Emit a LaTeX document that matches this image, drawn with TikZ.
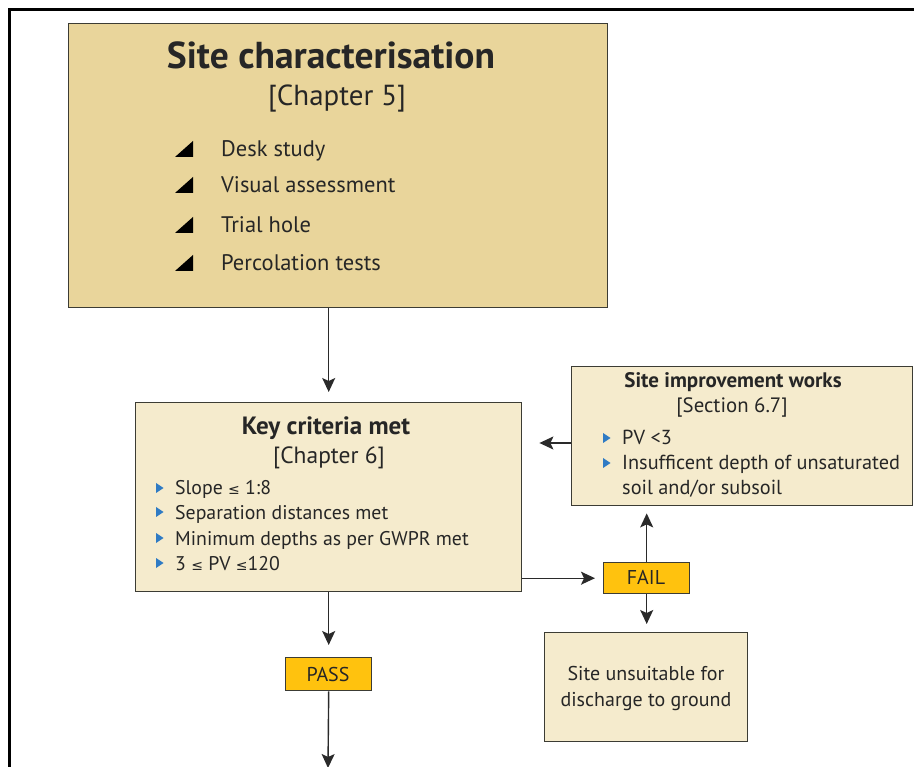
\documentclass[tikz,border=0pt]{standalone}
\usepackage{fontspec}
\setmainfont{PT Sans}
\newfontfamily\symfont{DejaVu Sans}
\usetikzlibrary{arrows.meta}
\definecolor{tanA}{HTML}{E9D59B}
\definecolor{tanB}{HTML}{F5EBCD}
\definecolor{orangeA}{HTML}{FFC20E}
\definecolor{bluebul}{HTML}{2F7BC4}
\definecolor{bordercol}{HTML}{3C3C34}
\definecolor{linecol}{HTML}{2A2A2A}
\newcommand{\fs}[1]{\fontsize{#1}{#1}\selectfont}
\newcommand{\lesym}{{\fontsize{14}{14}\symfont ≤}}
\begin{document}
\begin{tikzpicture}[x=1pt,y=-1pt,
  box/.style={draw=bordercol, line width=1.4pt, inner sep=0pt, anchor=north west},
  conn/.style={draw=linecol, line width=1.4pt, -{Stealth[length=14pt,width=13pt,inset=3pt]}, shorten >=8pt},
  txt/.style={inner sep=0pt, anchor=base west, text=black!85},
  ctxt/.style={inner sep=0pt, anchor=base, text=black!85},
  bigbul/.style={fill=black},
  smallbul/.style={fill=bluebul}]
\useasboundingbox (0,0) rectangle (914,767);
% outer frame
\draw[line width=2.5pt] (9.5,768) -- (9.5,9.5) -- (915,9.5);

% Site characterisation
\node[box, fill=tanA, minimum width=539pt, minimum height=284pt] (sc) at (68,23) {};
\node[ctxt, font=\fs{37.5}\bfseries] (sct) at (331,69) {Site characterisation};
\node[ctxt, font=\fs{29}] (scc) at (337,106) {[Chapter 5]};
\foreach \y/\t [count=\i] in {157/Desk study, 193/Visual assessment, 233/Trial hole, 271/Percolation tests}{
  \fill[bigbul] (175,\y) -- (193,\y) -- (193,\y-16) -- cycle;
  \node[txt, font=\fs{22.5}] (scb\i) at (221,\y) {\t};
}

% Key criteria
\node[box, fill=tanB, minimum width=386pt, minimum height=189pt] (kc) at (135,402) {};
\node[ctxt, font=\fs{25}\bfseries] (kct) at (326,435) {Key criteria met};
\node[ctxt, font=\fs{23.5}] (kcc) at (329,464) {[Chapter 6]};
\foreach \y/\t [count=\i] in {495/{Slope \lesym\ 1:8}, 519/Separation distances met, 545/Minimum depths as per GWPR met, 570/{3 \lesym\ PV \lesym120}}{
  \fill[smallbul] (156,\y-12) -- (163.5,\y-7) -- (156,\y-2) -- cycle;
  \node[txt, font=\fs{19.8}] (kcb\i) at (175,\y) {\t};
}

% Site improvement works
\node[box, fill=tanB, minimum width=341pt, minimum height=139pt] (imp) at (571,366) {};
\node[ctxt, font=\fs{21}\bfseries] (impt) at (733,388) {Site improvement works};
\node[ctxt, font=\fs{20.8}] (impc) at (732,413) {[Section 6.7]};
\fill[smallbul] (603,445-12) -- (610.5,445-7) -- (603,445-2) -- cycle;
\node[txt, font=\fs{20.3}] (impb1) at (622,445) {PV <3};
\fill[smallbul] (603,470-12) -- (610.5,470-7) -- (603,470-2) -- cycle;
\node[txt, font=\fs{20.3}] (impb2) at (622,470) {Insufficent depth of unsaturated};
\node[txt, font=\fs{20.3}] (impb3) at (622,495) {soil and/or subsoil};

% FAIL / PASS
\node[box, fill=orangeA, minimum width=86pt, minimum height=31pt] (fail) at (603,562) {};
\node[ctxt, font=\fs{20}] (failt) at (646,584) {FAIL};
\node[box, fill=orangeA, minimum width=86pt, minimum height=33pt] (pass) at (285,657) {};
\node[ctxt, font=\fs{20}] (passt) at (328,681) {PASS};

% Site unsuitable
\node[box, fill=tanB, minimum width=203pt, minimum height=109pt] (uns) at (544,632) {};
\node[ctxt, font=\fs{20}] (uns1) at (646,680) {Site unsuitable for};
\node[ctxt, font=\fs{20}] (uns2) at (646,706) {discharge to ground};

% connectors
\draw[conn, shorten >=10pt] (kc.north |- sc.south) -- (kc.north);
\draw[conn, shorten >=12pt] (kc.south -| pass.north) -- (pass.north);
\coordinate (bot) at (328,768);
\draw[conn, shorten >=0pt] (pass.south) -- (bot);
\draw[conn] (kc.east |- fail.west) -- (fail.west);
\draw[conn, shorten >=7pt] (fail.north) -- (fail.north |- imp.south);
\draw[conn] (fail.south) -- (fail.south |- uns.north);
\coordinate (impout) at (571,443);
\draw[conn, shorten >=17pt] (impout) -- (kc.east |- impout);
\end{tikzpicture}
\end{document}
